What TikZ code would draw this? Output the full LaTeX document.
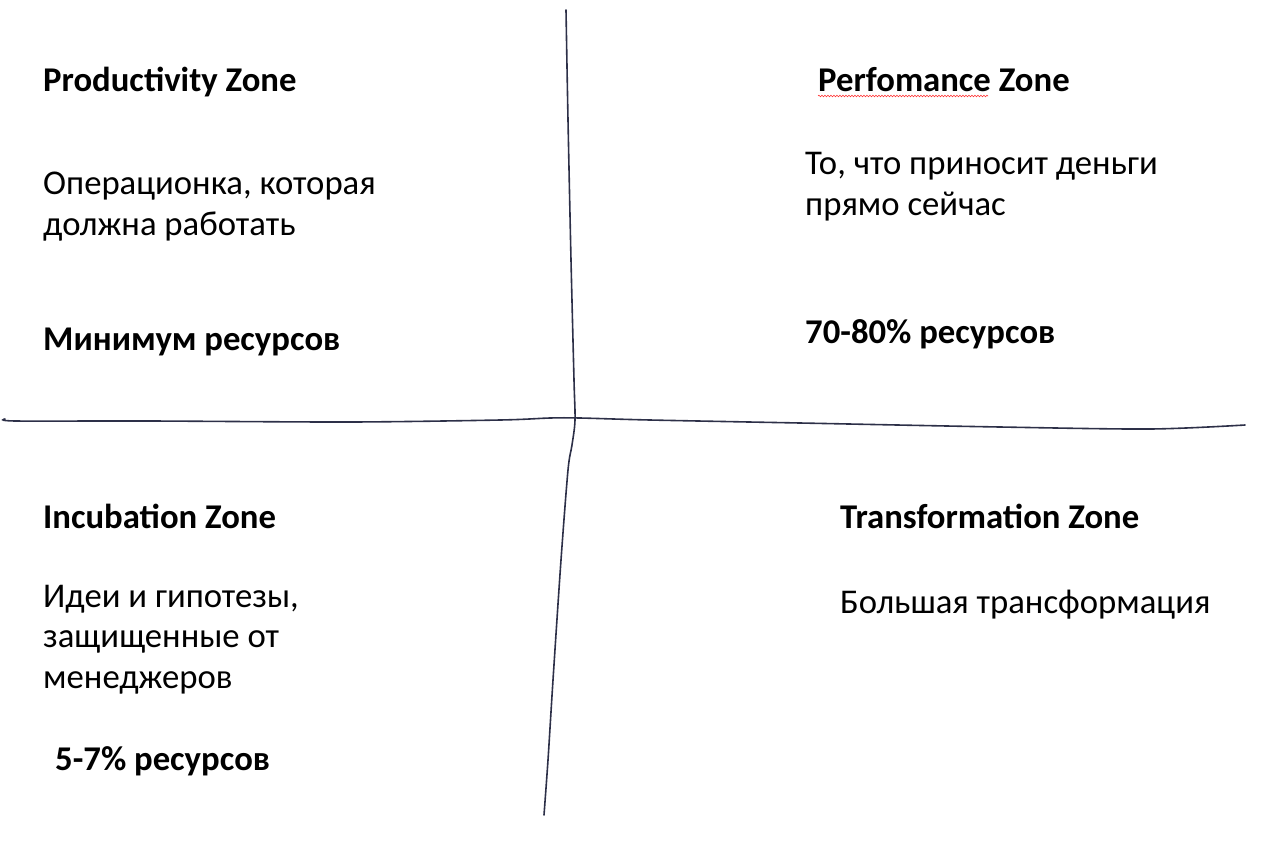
\documentclass[tikz,border=0pt]{standalone}
\usepackage{fontspec}
\setmainfont{Carlito}
\usepackage{tikz}
\usetikzlibrary{decorations.pathmorphing}
\definecolor{pen}{RGB}{45,48,72}

\begin{document}
\begin{tikzpicture}[x=1pt,y=-1pt,
                    title/.style={anchor=base west,inner sep=0pt,font=\fontsize{34.7}{40.5}\selectfont\bfseries},
                    body/.style={anchor=base west,inner sep=0pt,align=left,font=\fontsize{34.7}{40.5}\selectfont},
                    axis/.style={draw=pen,line width=1.6pt,line cap=round}]
%  \useasboundingbox fixes the margins
  \useasboundingbox (0,0) rectangle (1280,849);

  % the two hand drawn axes
  \draw[axis] plot[smooth] coordinates {(566,10) (568,120) (571,260) (574,380) (575,420)
                                        (572,445) (568,470) (561,560) (553,680) (548,760) (544,815)};
  \draw[axis] plot[smooth] coordinates {(5,419) (16,421) (150,421) (350,422) (500,420)
                                        (550,418) (580,418) (650,420) (800,423) (1000,427)
                                        (1150,429) (1245,425)};

  % multi line nodes sit on the baseline of their last line
  \node[title] (PZ) at (43,91)  {Productivity Zone};
  \node[body]  (PT) at (43,235) {Операционка, которая\\должна работать};
  \node[title] (PR) at (43,350) {Минимум ресурсов};

  \node[title] (FZ) at (818,91)  {Perfomance Zone};
  \node[body]  (FT) at (805,215) {То, что приносит деньги\\прямо сейчас};
  \node[title] (FR) at (805,343) {70-80\% ресурсов};

  \node[title] (IZ) at (43,528) {Incubation Zone};
  \node[body]  (IT) at (43,688) {Идеи и гипотезы,\\защищенные от\\менеджеров};
  \node[title] (IR) at (55,770) {5-7\% ресурсов};

  \node[title] (TZ) at (840,528) {Transformation Zone};
  \node[body]  (TT) at (840,613) {Большая трансформация};

  % spell check squiggle
  \draw[red!80,line width=0.6pt,decorate,decoration={snake,amplitude=0.8pt,segment length=3pt}]
    (PZ.base west -| FZ.west) ++(0,5) -- ++(170,0);
\end{tikzpicture}
\end{document}
